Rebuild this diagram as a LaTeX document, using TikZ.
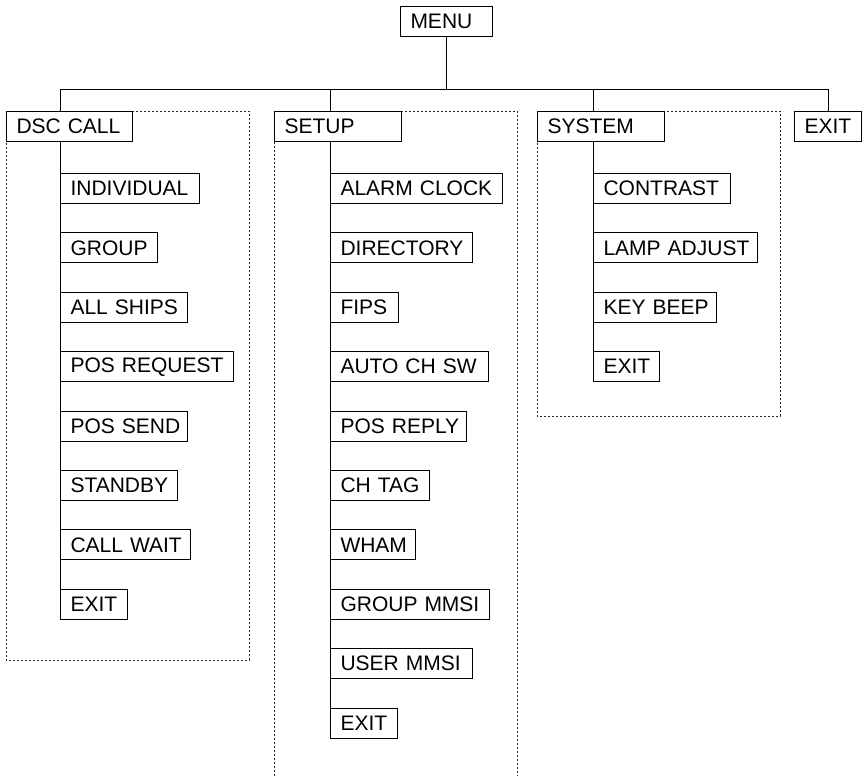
\documentclass[tikz,border=0pt]{standalone}
\usepackage{fontspec}
\setmainfont{Liberation Sans}
\newcommand\lbl[1]{\mbox{#1}}
\begin{document}
\begin{tikzpicture}[x=1pt,y=-1pt,
  font=\fontsize{21}{24}\selectfont,
  mbox/.style={draw, line width=1pt, fill=white, anchor=north west,
    inner xsep=10pt, inner ysep=0pt, minimum height=30pt, align=left},
  link/.style={line width=1pt},
  grp/.style={draw=black!85, line width=0.8pt, dash pattern=on 2.2pt off 1.8pt}]
\useasboundingbox (0,0) rectangle (862,776);
% dashed group frames
\draw[grp] (6,111) rectangle (249,660);
\draw[grp] (274,776) -- (274,111) -- (517,111) -- (517,776);
\draw[grp] (537,111) rectangle (780,416);
% top level
\node[mbox, text width=72pt] (menu) at (400,6) {\lbl{MENU}};
\node[mbox, text width=106pt] (dsc) at (6,111) {\lbl{DSC CALL}};
\node[mbox, text width=107pt] (setup) at (274,111) {\lbl{SETUP}};
\node[mbox, text width=107pt] (sys) at (537,111) {\lbl{SYSTEM}};
\node[mbox, text width=47pt] (tx) at (794,111) {\lbl{EXIT}};
% DSC CALL children
\node[mbox, text width=119pt] (ind) at (60,173) {\lbl{INDIVIDUAL}};
\node[mbox, text width=77pt] (grp) at (60,232.4) {\lbl{GROUP}};
\node[mbox, text width=107pt] (all) at (60,291.8) {\lbl{ALL SHIPS}};
\node[mbox, text width=153pt] (preq) at (60,351.2) {\lbl{POS REQUEST}};
\node[mbox, text width=107pt] (psend) at (60,410.6) {\lbl{POS SEND}};
\node[mbox, text width=97pt] (stby) at (60,470) {\lbl{STANDBY}};
\node[mbox, text width=110pt] (cw) at (60,529.4) {\lbl{CALL WAIT}};
\node[mbox, text width=47pt] (dx) at (60,588.8) {\lbl{EXIT}};
% SETUP children
\node[mbox, text width=152pt] (ac) at (330,173) {\lbl{ALARM CLOCK}};
\node[mbox, text width=122pt] (dir) at (330,232.4) {\lbl{DIRECTORY}};
\node[mbox, text width=48pt] (fips) at (330,291.8) {\lbl{FIPS}};
\node[mbox, text width=138pt] (auto) at (330,351.2) {\lbl{AUTO CH SW}};
\node[mbox, text width=116pt] (prep) at (330,410.6) {\lbl{POS REPLY}};
\node[mbox, text width=79pt] (tag) at (330,470) {\lbl{CH TAG}};
\node[mbox, text width=65pt] (wham) at (330,529.4) {\lbl{WHAM}};
\node[mbox, text width=139pt] (gm) at (330,588.8) {\lbl{GROUP MMSI}};
\node[mbox, text width=122pt] (um) at (330,648.2) {\lbl{USER MMSI}};
\node[mbox, text width=47pt] (sx) at (330,707.6) {\lbl{EXIT}};
% SYSTEM children
\node[mbox, text width=117pt] (con) at (593,173) {\lbl{CONTRAST}};
\node[mbox, text width=144pt] (lamp) at (593,232.4) {\lbl{LAMP ADJUST}};
\node[mbox, text width=103pt] (beep) at (593,291.8) {\lbl{KEY BEEP}};
\node[mbox, text width=46pt] (yx) at (593,351.2) {\lbl{EXIT}};
% connectors
\coordinate (busL) at (60,89);
\coordinate (busR) at (828,89);
\draw[link] (busL) -- (busR);
\draw[link] (menu.south) -- (menu.south |- busL);
\draw[link] (ind.west |- busL) -- (ind.west |- dsc.north);
\draw[link] (ac.west |- busL) -- (ac.west |- setup.north);
\draw[link] (con.west |- busL) -- (con.west |- sys.north);
\draw[link] (tx.north |- busL) -- (tx.north);
\draw[link] (ind.west |- dsc.south) -- (dx.north west);
\draw[link] (ac.west |- setup.south) -- (sx.north west);
\draw[link] (con.west |- sys.south) -- (yx.north west);
\end{tikzpicture}
\end{document}
